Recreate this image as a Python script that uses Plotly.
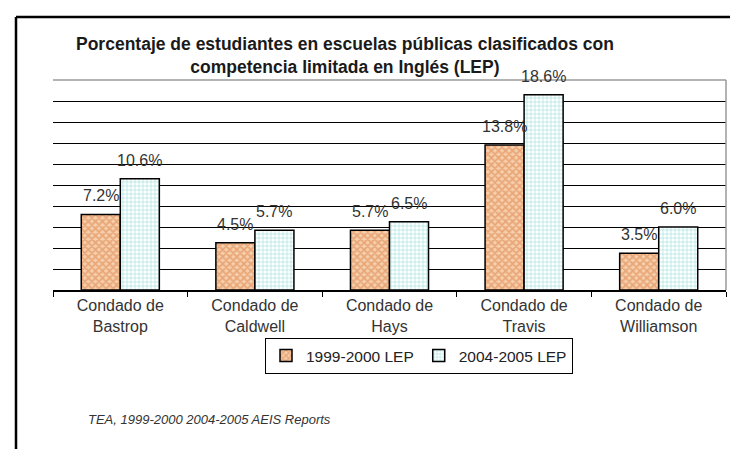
import plotly.graph_objects as go

categories = ["Condado de<br>Bastrop", "Condado de<br>Caldwell", "Condado de<br>Hays",
              "Condado de<br>Travis", "Condado de<br>Williamson"]
series_names = ["1999-2000 LEP", "2004-2005 LEP"]
lep_1999 = [7.2, 4.5, 5.7, 13.8, 3.5]
lep_2004 = [10.6, 5.7, 6.5, 18.6, 6.0]
labels_1999 = ["7.2%", "4.5%", "5.7%", "13.8%", "3.5%"]
labels_2004 = ["10.6%", "5.7%", "6.5%", "18.6%", "6.0%"]
title_text = "Porcentaje de estudiantes en escuelas públicas clasificados con<br>competencia limitada en Inglés (LEP)"
source_text = "TEA, 1999-2000 2004-2005 AEIS Reports"

FONT = "Liberation Sans, Arial, sans-serif"

W, H = 738, 449
ML, MR, MT, MB = 45, 20, 72, 167
PW = W - ML - MR
PH = H - MT - MB

def px_x(px):
    return (px - ML) / PW

def px_y(py):
    return (H - MB - py) / PH

fig = go.Figure()
fig.add_trace(go.Bar(
    x=categories, y=lep_1999, name=series_names[0],
    marker=dict(color="#EBA26C", line=dict(color="black", width=1.5),
                pattern=dict(shape="x", fgcolor="#DC8040", bgcolor="#F6CFAE", size=5, solidity=0.6)),
))
fig.add_trace(go.Bar(
    x=categories, y=lep_2004, name=series_names[1],
    marker=dict(color="white", line=dict(color="black", width=1.5),
                pattern=dict(shape="+", fgcolor="#4CC2C2", bgcolor="white", size=4, solidity=0.3)),
))

annotations = []
bar_px = (1 - 0.42) / 2 * PW / len(categories)
for cat, v, t in zip(categories, lep_1999, labels_1999):
    annotations.append(dict(x=cat, y=v, text=t, xref="x", yref="y", showarrow=False,
                            xshift=-bar_px / 2, yshift=8, yanchor="bottom",
                            font=dict(family=FONT, size=16, color="#333333")))
for cat, v, t in zip(categories, lep_2004, labels_2004):
    annotations.append(dict(x=cat, y=v, text=t, xref="x", yref="y", showarrow=False,
                            xshift=bar_px / 2, yshift=8, yanchor="bottom",
                            font=dict(family=FONT, size=16, color="#333333")))

# chart title
annotations.append(dict(text="<b>" + title_text + "</b>", xref="paper", yref="paper",
                        x=px_x(337), y=px_y(47), xanchor="center", yanchor="middle", showarrow=False,
                        font=dict(family=FONT, size=17.5, color="#1a1a1a")))
# source note
annotations.append(dict(text="<i>" + source_text + "</i>", xref="paper", yref="paper",
                        x=px_x(78), y=px_y(411), xanchor="left", yanchor="middle", showarrow=False,
                        font=dict(family=FONT, size=13, color="#333333")))

shapes = [
    # outer frame (top and left)
    dict(type="line", xref="paper", yref="paper", x0=px_x(8), x1=px_x(740), y0=px_y(9), y1=px_y(9),
         line=dict(color="black", width=2.5)),
    dict(type="line", xref="paper", yref="paper", x0=px_x(8), x1=px_x(8), y0=px_y(9), y1=px_y(452),
         line=dict(color="black", width=2.5)),
    # plot area border top/right (gray)
    dict(type="line", xref="paper", yref="paper", x0=0, x1=1, y0=1, y1=1,
         line=dict(color="#9A9A9A", width=1.5), layer="above"),
    dict(type="line", xref="paper", yref="paper", x0=1, x1=1, y0=0, y1=1,
         line=dict(color="#9A9A9A", width=1.5), layer="above"),
]

fig.update_layout(
    width=W, height=H,
    margin=dict(l=ML, r=MR, t=MT, b=MB),
    paper_bgcolor="white", plot_bgcolor="white",
    barmode="group", bargap=0.42, bargroupgap=0,
    font=dict(family=FONT, color="#333333"),
    xaxis=dict(showline=True, linecolor="black", linewidth=1.5, ticks="outside", tickson="boundaries",
               ticklen=5, tickcolor="black", tickfont=dict(family=FONT, size=16, color="#333333")),
    yaxis=dict(range=[0, 20], dtick=2, showticklabels=False, showgrid=True, gridcolor="black",
               gridwidth=1, zeroline=False, showline=False, fixedrange=True),
    legend=dict(orientation="h", x=px_x(411), xanchor="center", y=px_y(330), yanchor="top",
                bordercolor="black", borderwidth=1, bgcolor="white",
                font=dict(family=FONT, size=15.5, color="#222222"), itemwidth=30,
                tracegroupgap=0),
    showlegend=True,
    annotations=annotations,
    shapes=shapes,
)

fig.write_html("out.html")
